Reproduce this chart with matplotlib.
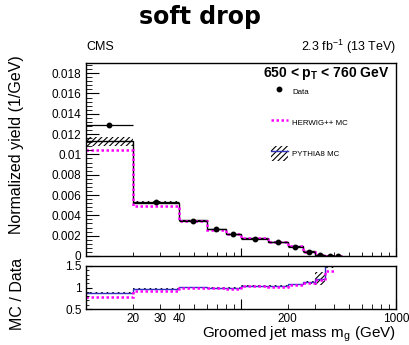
import numpy as np
import matplotlib
matplotlib.use("Agg")
import matplotlib.pyplot as plt
from matplotlib.ticker import FixedLocator, MultipleLocator, FuncFormatter
from matplotlib.lines import Line2D
from matplotlib.patches import Patch

plt.rcParams['font.family'] = ['Liberation Sans', 'DejaVu Sans']
plt.rcParams['mathtext.default'] = 'regular'
plt.rcParams['hatch.linewidth'] = 0.8

# bin edges of the groomed mass (GeV)
edges = [10, 20, 40, 60, 80, 100, 150, 200, 250, 300, 350, 400, 450]
data = [0.0129, 0.00532, 0.00345, 0.00266, 0.0022, 0.0017, 0.00138, 0.00092, 0.0004, 0.00008, 0.00003, 0.00001]
pythia = [0.0113, 0.00525, 0.00352, 0.00266, 0.00218, 0.00176, 0.00142, 0.00098, 0.00045, 0.0001, 0.00004, 0.00001]
pythia_unc = [0.00045, 0.00015, 0.00004, 0.00003, 0.00003, 0.00002, 0.00002, 0.00002, 0.00002, 0.00001, 0.00001, 0.0]
herwig = [0.0104, 0.00496, 0.00345, 0.0026, 0.00214, 0.00174, 0.00141, 0.00098, 0.00044, 0.0001, 0.00003, 0.00001]

# ratio panel (MC / Data), bins 10 -> 400
redges = [10, 20, 40, 60, 80, 100, 150, 200, 250, 300, 350, 400]
ratio_pythia = [0.87, 0.96, 1.01, 1.0, 1.0, 1.04, 1.03, 1.07, 1.12, 1.2, 1.7]
ratio_pythia_unc = [0.02, 0.02, 0.01, 0.01, 0.01, 0.01, 0.02, 0.02, 0.04, 0.15, 0.25]
ratio_herwig = [0.79, 0.93, 1.0, 0.99, 0.97, 1.03, 1.02, 1.06, 1.1, 1.17, 1.38]

minor_ticks = [20, 30, 40, 50, 60, 70, 80, 90, 200, 300, 400, 500, 600, 700, 800, 900]
minor_labels = ['20', '30', '40', '', '', '', '', '', '200', '', '', '', '', '', '', '']

magenta = '#ff00ff'
blue = '#3030c0'

fig = plt.figure(figsize=(4.1, 3.45), dpi=100)
ax = fig.add_axes([86/410, 1-256/345, 310/410, 193/345])
rax = fig.add_axes([86/410, 1-309/345, 310/410, 43/345])

edges = np.array(edges)
centers = np.sqrt(edges[:-1] * edges[1:])
pyt = np.array(pythia)
pu = np.array(pythia_unc)

# main panel
ax.stairs(pyt + pu, edges, baseline=pyt - pu, fill=True, hatch='//////',
          facecolor='none', edgecolor='black', linewidth=0)
ax.stairs(pyt, edges, baseline=None, color='black', linewidth=1.0)
ax.stairs(herwig, edges, baseline=None, color=magenta, linewidth=1.8,
          linestyle=(0, (1, 1)))
xlo = centers - edges[:-1]
xhi = edges[1:] - centers
ax.errorbar(centers, data, xerr=[xlo, xhi], fmt='o', color='black', ms=3.2,
            elinewidth=0.9, capsize=0)

ax.set_xscale('log')
ax.set_xlim(10, 1000)
ax.set_ylim(0, 0.019)
ax.yaxis.set_major_locator(MultipleLocator(0.002))
ax.yaxis.set_minor_locator(MultipleLocator(0.0004))
ax.yaxis.set_major_formatter(FuncFormatter(lambda v, p: '%g' % round(v, 4)))
ax.xaxis.set_major_locator(FixedLocator([100, 1000]))
ax.xaxis.set_minor_locator(FixedLocator(minor_ticks))
ax.tick_params(axis='both', which='both', direction='in', labelbottom=False,
               labelsize=8.5)
ax.tick_params(axis='y', which='major', length=9)
ax.tick_params(axis='y', which='minor', length=4.5)
ax.tick_params(axis='x', which='major', length=6)
ax.tick_params(axis='x', which='minor', length=3)

ax.text(0.98, 0.945, r'650 < p$_T$ < 760 GeV', transform=ax.transAxes,
        ha='right', va='center', fontsize=10, fontweight='bold')

handles = [
    Line2D([], [], marker='o', color='black', linestyle='none', ms=3.2),
    Line2D([], [], color=magenta, linewidth=1.8, linestyle=(0, (1, 1))),
    (Patch(facecolor='none', edgecolor='black', hatch='//////', linewidth=0),
     Line2D([], [], color=blue, linewidth=1.0)),
]
ax.legend(handles, ['Data', 'HERWIG++ MC', 'PYTHIA8 MC'], loc='upper left',
          bbox_to_anchor=(0.583, 0.91), frameon=False, fontsize=5.7,
          handlelength=2.2, handleheight=2.6, labelspacing=1.95,
          handletextpad=0.5, borderpad=0)

# ratio panel
redges = np.array(redges)
rp = np.array(ratio_pythia)
ru = np.array(ratio_pythia_unc)
rax.stairs(rp + ru, redges, baseline=rp - ru, fill=True, hatch='//////',
           facecolor='none', edgecolor='black', linewidth=0)
rax.stairs(rp, redges, baseline=None, color=blue, linewidth=1.0)
rax.stairs(ratio_herwig, redges, baseline=None, color=magenta, linewidth=1.8,
           linestyle=(0, (1, 1)))
rax.set_xscale('log')
rax.set_xlim(10, 1000)
rax.set_ylim(0.5, 1.5)
rax.yaxis.set_major_locator(FixedLocator([0.5, 1.0, 1.5]))
rax.yaxis.set_minor_locator(MultipleLocator(0.1))
rax.yaxis.set_major_formatter(FuncFormatter(lambda v, p: '%g' % v))
rax.xaxis.set_major_locator(FixedLocator([100, 1000]))
rax.set_xticklabels(['', '1000'])
rax.set_xticks(minor_ticks, minor=True)
rax.set_xticklabels(minor_labels, minor=True)
rax.tick_params(axis='both', which='both', direction='in', labelsize=8.5, pad=3)
rax.tick_params(axis='y', which='major', length=4)
rax.tick_params(axis='y', which='minor', length=2)
rax.tick_params(axis='x', which='major', length=7)
rax.tick_params(axis='x', which='minor', length=3.5)

for a in (ax, rax):
    for s in a.spines.values():
        s.set_linewidth(1.0)

fig.text(200/410, 1-17/345, 'soft drop', ha='center', va='center',
         fontsize=17, fontweight='bold', family='DejaVu Sans')
fig.text(86/410, 1-47/345, 'CMS', ha='left', va='center', fontsize=9)
fig.text(396/410, 1-47/345, r'2.3 fb$^{-1}$ (13 TeV)', ha='right', va='center', fontsize=9)
fig.text(17/410, 1-55/345, 'Normalized yield (1/GeV)', rotation=90,
         ha='center', va='top', fontsize=11.5)
fig.text(17/410, 1-258/345, 'MC / Data', rotation=90, ha='center', va='top',
         fontsize=11.5)
fig.text(396/410, 1-338/345, r'Groomed jet mass m$_g$ (GeV)', ha='right',
         va='baseline', fontsize=11)

fig.savefig('out.png', dpi=100)
